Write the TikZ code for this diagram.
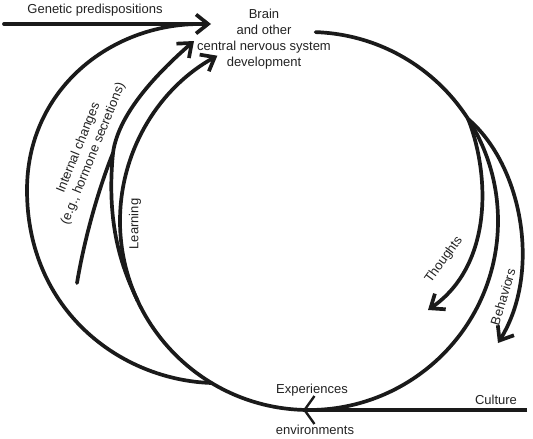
\documentclass[tikz,border=0pt]{standalone}
\usepackage{fontspec}
\setmainfont{Liberation Sans}
\usetikzlibrary{arrows.meta,calc}
\definecolor{ink}{HTML}{1A1A1A}
\definecolor{txt}{HTML}{222222}
\begin{document}
\begin{tikzpicture}[x=1pt,y=-1pt,
  line/.style={line width=3.7pt, draw=ink, line cap=round},
  arr/.style={line, -{Straight Barb[length=12pt,width=19pt,line width=3.7pt]}},
  cultarr/.style={line width=3.2pt, draw=ink, -{Straight Barb[length=10pt,width=28pt,line width=2.4pt]}},
  lbl/.style={inner sep=0pt, text=txt, font=\fontsize{13pt}{15.8pt}\selectfont, align=center}
]
\useasboundingbox (0,0) rectangle (533,439);

% key points
\coordinate (C) at (309,221);
\coordinate (ctop) at ($(C)+(-88:189)$);
\coordinate (cright) at ($(C)+(-32.6:189)$);
\coordinate (couter) at ($(C)+(121:189)$);
\coordinate (csplit) at ($(C)+(155:189)$);
\coordinate (gstart) at (4,24);
\coordinate (gtip) at (211,24);
\coordinate (gmerge) at (200,24);
\coordinate (outerleft) at (27,190);
\coordinate (istart) at (77,283);
\coordinate (imerge) at (113,153);
\coordinate (itip) at (194,41);
\coordinate (ttip) at (428,310);
\coordinate (btip) at (498,343);
\coordinate (cultstart) at (527,410);
\coordinate (culttip) at (303,410);

% labels
\node[lbl] (genetic) at (95,10) {Genetic predispositions};
\node[lbl] (brain) at (264,39) {Brain\\and other\\central nervous system\\development};
\node[lbl, rotate=68] (internal) at (86,151) {Internal changes\\(e.g., hormone secretions)};
\node[lbl, rotate=90] (learning) at (135,224) {Learning};
\node[lbl, rotate=54] (thoughts) at (444,260) {Thoughts};
\node[lbl, rotate=73] (behaviors) at (503,297) {Behaviors};
\node[lbl] (experiences) at (312,390) {Experiences};
\node[lbl] (environments) at (315,430) {environments};
\node[lbl] (culture) at (496,400) {Culture};

% main loop (ends as the Learning arrow)
\draw[arr] (ctop) arc[start angle=-88, end angle=241, radius=189];

% genetic predispositions
\draw[arr] (gstart) -- (gtip);
% outer loop from experiences back to genetic line
\draw[line] (couter) .. controls (120,380) and (27,310) .. (outerleft)
  .. controls (27,90) and (110,24) .. (gmerge);

% internal changes and the branch joining it
\draw[line] (istart) .. controls (85,235) and (100,185) .. (imerge);
\draw[arr] (csplit) .. controls (122,268) and (106,225) .. (imerge)
  .. controls (118,115) and (155,75) .. (itip);

% thoughts and behaviors
\draw[arr] (cright) .. controls (490,175) and (493,265) .. (ttip);
\draw[arr] (cright) .. controls (522,165) and (542,272) .. (btip);

% culture
\draw[cultarr] (cultstart) -- (culttip);
\end{tikzpicture}
\end{document}
